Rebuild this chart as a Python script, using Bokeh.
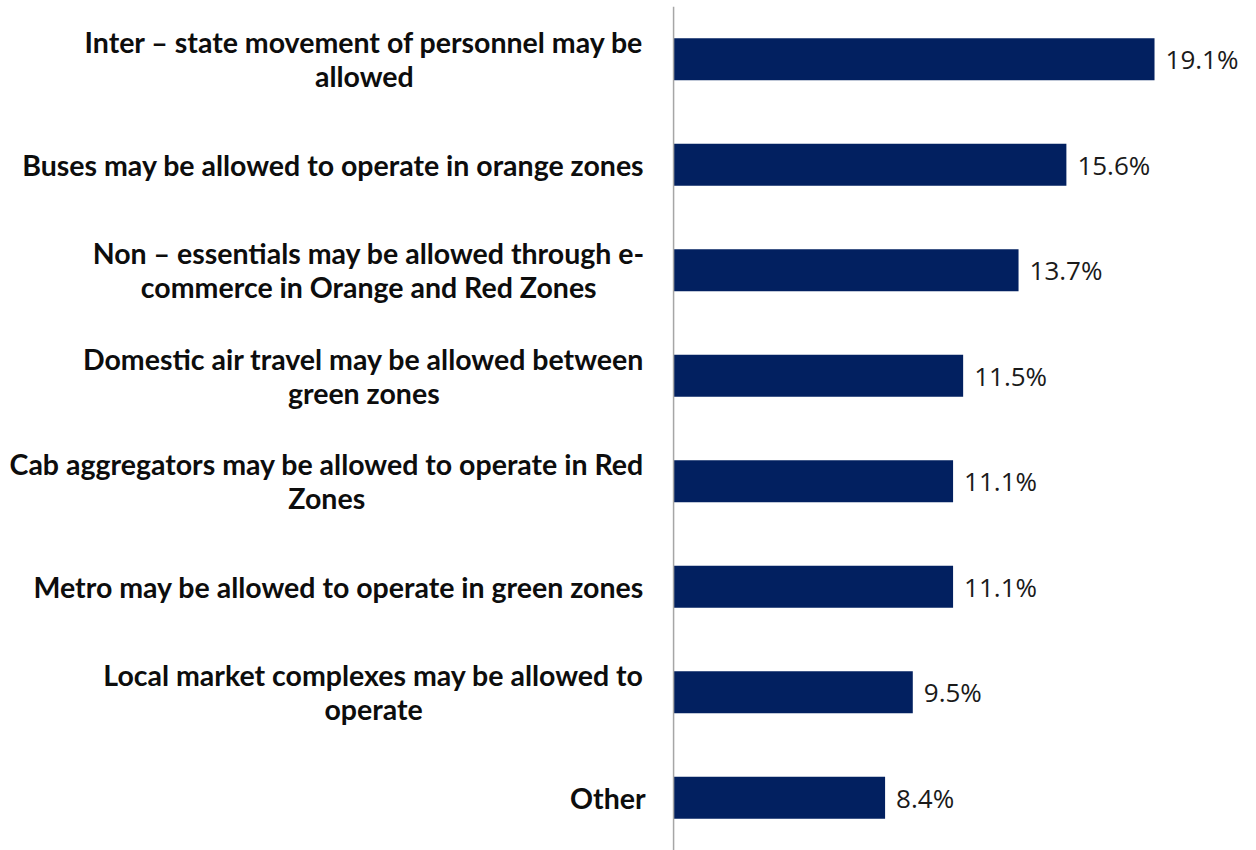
import glob
import struct

from bokeh.core.properties import value
from bokeh.embed import file_html
from bokeh.models import ColumnDataSource, FactorRange, Range1d, Span
from bokeh.plotting import figure
from bokeh.resources import INLINE

# ---------------- data ----------------
categories = [
    "Inter – state movement of personnel may be\nallowed",
    "Buses may be allowed to operate in orange zones",
    "Non – essentials may be allowed through e-\ncommerce in Orange and Red Zones",
    "Domestic air travel may be allowed between\ngreen zones",
    "Cab aggregators may be allowed to operate in Red\nZones",
    "Metro may be allowed to operate in green zones",
    "Local market complexes may be allowed to\noperate",
    "Other",
]
values = [19.1, 15.6, 13.7, 11.5, 11.1, 11.1, 9.5, 8.4]
value_labels = [f"{v:.1f}%" for v in values]

# ---------------- style ----------------
BAR_COLOR = "#022060"
LABEL_FONT = "Lato"
LABEL_SIZE = 28.5
VALUE_FONT = "Open Sans"
VALUE_SIZE = 26
LABEL_GAP = 28      # px between label right edge and axis
LINE_SPACING = 34   # px between label lines


def make_measurer(pattern, fallback_em=0.55):
    """Return a function measuring text width in px from the TTF advance widths."""
    paths = []
    for root in ("/usr/share/fonts", "/usr/local/share/fonts", "/root/.fonts", "/home"):
        paths += glob.glob(f"{root}/**/{pattern}", recursive=True)
    try:
        data = open(paths[0], "rb").read()
        num = struct.unpack(">H", data[4:6])[0]
        tables = {}
        for i in range(num):
            tag, _cs, off, _ln = struct.unpack(">4sIII", data[12 + 16 * i:28 + 16 * i])
            tables[tag.decode("latin1")] = off
        head = tables["head"]
        upem = struct.unpack(">H", data[head + 18:head + 20])[0]
        hhea = tables["hhea"]
        nhm = struct.unpack(">H", data[hhea + 34:hhea + 36])[0]
        hmtx = tables["hmtx"]
        adv = [struct.unpack(">H", data[hmtx + 4 * i:hmtx + 4 * i + 2])[0] for i in range(nhm)]
        cmap = tables["cmap"]
        n = struct.unpack(">H", data[cmap + 2:cmap + 4])[0]
        sub = None
        for i in range(n):
            pid, eid, off = struct.unpack(">HHI", data[cmap + 4 + 8 * i:cmap + 12 + 8 * i])
            fmt = struct.unpack(">H", data[cmap + off:cmap + off + 2])[0]
            if fmt == 4 and pid in (0, 3):
                sub = cmap + off
                break
        seg2 = struct.unpack(">H", data[sub + 6:sub + 8])[0]
        seg = seg2 // 2
        ends = struct.unpack(f">{seg}H", data[sub + 14:sub + 14 + seg2])
        starts = struct.unpack(f">{seg}H", data[sub + 16 + seg2:sub + 16 + 2 * seg2])
        deltas = struct.unpack(f">{seg}h", data[sub + 16 + 2 * seg2:sub + 16 + 3 * seg2])
        ro_off = sub + 16 + 3 * seg2
        ros = struct.unpack(f">{seg}H", data[ro_off:ro_off + seg2])

        def gid(c):
            for i in range(seg):
                if ends[i] >= c:
                    if starts[i] > c:
                        return 0
                    if ros[i] == 0:
                        return (c + deltas[i]) & 0xFFFF
                    addr = ro_off + 2 * i + ros[i] + 2 * (c - starts[i])
                    g = struct.unpack(">H", data[addr:addr + 2])[0]
                    return (g + deltas[i]) & 0xFFFF if g else 0
            return 0

        def width(s, size):
            return sum(adv[min(gid(ord(ch)), nhm - 1)] for ch in s) * size / upem

        return width
    except Exception:
        return lambda s, size: len(s) * size * fallback_em


measure = make_measurer("Lato-Bold.ttf")

# ---------------- figure ----------------
p = figure(
    width=1256, height=850,
    x_range=Range1d(-26.73, 23.15),
    y_range=FactorRange(*reversed(categories), range_padding=0),
    output_backend="svg", toolbar_location=None,
    min_border_left=0, min_border_right=0, min_border_top=6, min_border_bottom=0,
)
p.axis.visible = False
p.grid.visible = False
p.outline_line_color = None
p.background_fill_color = "white"
p.border_fill_color = "white"

p.hbar(y=categories, right=values, left=0, height=0.4,
       fill_color=BAR_COLOR, line_color=None)

p.add_layout(Span(location=0, dimension="height", line_color="#a6a6a6", line_width=1.5))

# value labels
p.text(x=values, y=categories, text=value_labels, x_offset=11,
       text_align="left", text_baseline="middle",
       text_font=value(VALUE_FONT), text_font_size=f"{VALUE_SIZE}px",
       text_color="#1a1a1a")

# category labels: lines centred with each other, block right-aligned to axis
lx, ly, lt, lxo, lyo = [], [], [], [], []
for cat in categories:
    lines = cat.split("\n")
    w = max(measure(s, LABEL_SIZE) for s in lines)
    cx = -LABEL_GAP - w / 2
    n = len(lines)
    for j, s in enumerate(lines):
        lx.append(0)
        ly.append(cat)
        lt.append(s)
        lxo.append(cx)
        lyo.append((j - (n - 1) / 2) * LINE_SPACING)

src = ColumnDataSource(dict(x=lx, y=ly, text=lt, xo=lxo, yo=lyo))
p.text(x="x", y="y", text="text", x_offset="xo", y_offset="yo", source=src,
       text_align="center", text_baseline="middle",
       text_font=value(LABEL_FONT), text_font_style="bold",
       text_font_size=f"{LABEL_SIZE}px", text_color="#0d0d0d")

open("out.html", "w").write(file_html(p, INLINE))
